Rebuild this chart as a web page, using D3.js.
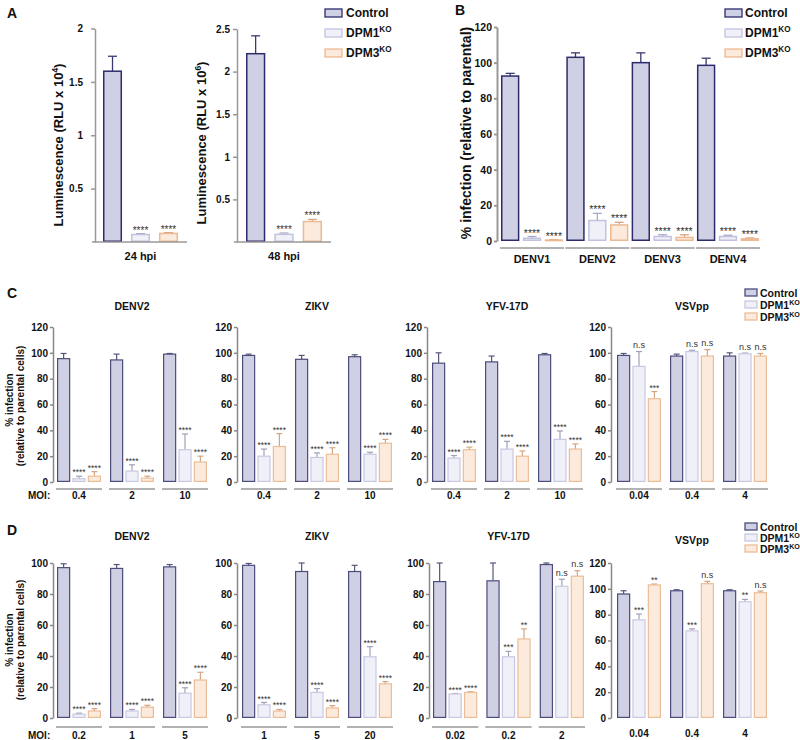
<!DOCTYPE html>
<html><head><meta charset="utf-8">
<script src="https://cdn.jsdelivr.net/npm/d3@7"></script>
<style>body{margin:0;background:#fff} svg{display:block}</style>
</head><body><svg id="c" width="800" height="740"></svg>
<script>
const FONT = '"Liberation Sans", Arial, sans-serif';
const seriesNames = ["Control", "DPM1", "DPM3"];

// ---------- Panel A ----------
const a24Group = ["24 hpi"];
const a24Mean = [1.60, 0.07, 0.08];
const a24Err  = [0.14, 0.008, 0.008];
const a24Sig  = ["", "****", "****"];
const a24Ticks = [0.5, 1, 1.5, 2];
const a48Group = ["48 hpi"];
const a48Mean = [2.21, 0.09, 0.24];
const a48Err  = [0.21, 0.015, 0.025];
const a48Sig  = ["", "****", "****"];
const a48Ticks = [0.5, 1, 1.5, 2, 2.5];

// ---------- Panel B ----------
const bGroups = ["DENV1", "DENV2", "DENV3", "DENV4"];
const bCtl = [92.5, 103, 100, 98.5], bCtlErr = [1.5, 2.5, 5.5, 4];
const bD1  = [1.5, 11.5, 2.5, 2.5],  bD1Err  = [1, 4, 1, 0.7];
const bD3  = [0.5, 9, 2, 1.2],       bD3Err  = [0.3, 1.5, 1.5, 0.5];
const bSig = ["****", "****", "****", "****"];
const bTicks = [0, 20, 40, 60, 80, 100, 120];

// ---------- Panel C ----------
const cTicks = [0, 20, 40, 60, 80, 100, 120];
const cDenvMoi = ["0.4", "2", "10"];
const cDenvCtl = [95.5, 94.5, 99],  cDenvCtlErr = [4, 4.5, 0.5];
const cDenvD1  = [2.5, 8.5, 25],    cDenvD1Err  = [2, 4.8, 12.2];
const cDenvD3  = [4.5, 3, 15.5],    cDenvD3Err  = [3.5, 1.5, 4.5];
const cZikMoi = ["0.4", "2", "10"];
const cZikCtl = [98, 95, 97],       cZikCtlErr = [1, 3, 1.5];
const cZikD1  = [20, 19, 21.5],     cZikD1Err  = [5.5, 3.5, 1.5];
const cZikD3  = [27.5, 21.5, 30],   cZikD3Err  = [10, 5, 3];
const cYfvMoi = ["0.4", "2", "10"];
const cYfvCtl = [92, 93, 98.5],     cYfvCtlErr = [8, 4.5, 1];
const cYfvD1  = [18.5, 25.5, 33],   cYfvD1Err  = [2, 6, 6.5];
const cYfvD3  = [25, 20, 25.5],     cYfvD3Err  = [2, 4, 4];
const cVsvMoi = ["0.04", "0.4", "4"];
const cVsvCtl = [98, 97.5, 97.5],   cVsvCtlErr = [1.5, 1.5, 2.5];
const cVsvD1  = [89.5, 101, 99.3],  cVsvD1Err  = [11.5, 1, 0.5];
const cVsvD3  = [64.5, 97.5, 97.5], cVsvD3Err  = [5.5, 5, 2];
const cVsvD1Sig = ["n.s", "n.s", "n.s"];
const cVsvD3Sig = ["***", "n.s", "n.s"];

// ---------- Panel D ----------
const dTicks100 = [0, 20, 40, 60, 80, 100];
const dTicks120 = [0, 20, 40, 60, 80, 100, 120];
const dDenvMoi = ["0.2", "1", "5"];
const dDenvCtl = [97, 96.5, 97.5],  dDenvCtlErr = [2.5, 2.5, 1.5];
const dDenvD1  = [2.5, 4.5, 16],    dDenvD1Err  = [0.6, 1, 3.5];
const dDenvD3  = [4.5, 7, 24.5],    dDenvD3Err  = [1.5, 1.2, 5];
const dZikMoi = ["1", "5", "20"];
const dZikCtl = [98.5, 94.5, 94.5], dZikCtlErr = [1.2, 5.5, 4];
const dZikD1  = [8.5, 16.5, 39.5],  dZikD1Err  = [1.5, 2.5, 6.5];
const dZikD3  = [4.5, 6.5, 22],     dZikD3Err  = [1, 1.5, 1.5];
const dYfvMoi = ["0.02", "0.2", "2"];
const dYfvCtl = [88, 88.5, 99],     dYfvCtlErr = [12, 11.5, 1];
const dYfvD1  = [15.5, 39.5, 85],   dYfvD1Err  = [0.3, 3.5, 4.5];
const dYfvD3  = [16.5, 51, 91.5],   dYfvD3Err  = [0.4, 6.5, 3.5];
const dYfvD1Sig = ["****", "***", "n.s"];
const dYfvD3Sig = ["****", "**", "n.s"];
const dVsvMoi = ["0.04", "0.4", "4"];
const dVsvCtl = [96, 98.5, 98.5],   dVsvCtlErr = [2.5, 0.8, 0.8];
const dVsvD1  = [76, 67.5, 90],     dVsvD1Err  = [4.5, 1.5, 1.8];
const dVsvD3  = [103, 104, 97],     dVsvD3Err  = [0.7, 1.8, 1.3];
const dVsvD1Sig = ["***", "***", "**"];
const dVsvD3Sig = ["**", "n.s", "n.s"];

const stars3 = ["****", "****", "****"];
const none3 = ["", "", ""];

// ---------- styles ----------
const fillC = {Control: "#d0d0e4", DPM1: "#f0f0f8", DPM3: "#fcebdd"};
const strokeAB = {Control: "#2c2c6c", DPM1: "#c2c2e0", DPM3: "#ebb993"};
const strokeCD = {Control: "#4c4c7c", DPM1: "#c8c8e2", DPM3: "#ebbd98"};
const errAB = {Control: "#3a3a70", DPM1: "#a8a8c8", DPM3: "#d9a57f"};
const errCD = {Control: "#55557a", DPM1: "#a0a0b8", DPM3: "#d4a582"};

const svg = d3.select("#c");

function subplot(o) {
  const x = d3.scaleBand().domain(o.groups).range(o.xRange).paddingInner(o.gPad).paddingOuter(0);
  const xi = d3.scaleBand().domain(seriesNames).range([0, x.bandwidth()]).paddingInner(o.iPad);
  const y = o.y;
  const ax = d3.axisLeft(y).tickValues(o.ticks).tickSize(o.tickSize).tickSizeOuter(0)
    .tickPadding(o.tickPad).tickFormat(d => String(d));
  const ag = svg.append("g").attr("transform", `translate(${o.axisX},0)`).call(ax)
    .attr("font-family", FONT).attr("font-size", o.tickFont);
  ag.select(".domain").attr("stroke", o.axisColor).attr("stroke-width", o.axisW);
  ag.selectAll(".tick line").attr("stroke", o.axisColor).attr("stroke-width", o.axisW);
  ag.selectAll(".tick text").attr("font-weight", o.tickWeight).attr("fill", "#111");

  const data = [];
  o.groups.forEach((grp, gi) => seriesNames.forEach((s, si) => data.push({
    grp, s, v: o.means[si][gi], e: o.errs[si][gi], sig: o.sigs[si][gi]
  })));
  const g = svg.append("g");
  const cx = d => x(d.grp) + xi(d.s) + xi.bandwidth() / 2;
  g.selectAll(".ev").data(data).join("line")
    .attr("x1", cx).attr("x2", cx).attr("y1", d => y(d.v)).attr("y2", d => y(d.v + d.e))
    .attr("stroke", d => o.errCol[d.s]).attr("stroke-width", o.errW);
  g.selectAll(".ec").data(data).join("line")
    .attr("x1", d => cx(d) - o.capW / 2).attr("x2", d => cx(d) + o.capW / 2)
    .attr("y1", d => y(d.v + d.e)).attr("y2", d => y(d.v + d.e))
    .attr("stroke", d => o.errCol[d.s]).attr("stroke-width", o.errW);
  g.selectAll(".bar").data(data).join("rect")
    .attr("x", d => x(d.grp) + xi(d.s) + o.barSW / 2)
    .attr("y", d => y(d.v))
    .attr("width", xi.bandwidth() - o.barSW)
    .attr("height", d => Math.max(0.5, y(0) - y(d.v) - o.barSW / 2))
    .attr("fill", d => fillC[d.s]).attr("stroke", d => o.stroke[d.s]).attr("stroke-width", o.barSW);
  g.selectAll(".sig").data(data.filter(d => d.sig)).join("text")
    .attr("x", cx)
    .attr("y", d => y(d.v + d.e) - (d.sig === "n.s" ? o.nsOff : o.starOff))
    .attr("text-anchor", "middle").attr("font-family", FONT)
    .attr("font-size", d => d.sig === "n.s" ? o.nsFont : o.starFont)
    .attr("fill", "#333").text(d => d.sig);
  if (o.ulY != null) {
    g.selectAll(".ul").data(o.groups).join("line")
      .attr("x1", d => x(d) - 1).attr("x2", d => x(d) + x.bandwidth() + 1)
      .attr("y1", o.ulY).attr("y2", o.ulY).attr("stroke", "#666").attr("stroke-width", 1.2);
  }
  g.selectAll(".gl").data(o.groups).join("text")
    .attr("x", d => x(d) + x.bandwidth() / 2).attr("y", o.labelY)
    .attr("text-anchor", "middle").attr("font-family", FONT).attr("font-weight", "bold")
    .attr("font-size", o.labelFont).attr("fill", "#111").text(d => d);
  if (o.title) {
    svg.append("text").attr("x", (o.xRange[0] + o.xRange[1]) / 2).attr("y", o.titleY)
      .attr("text-anchor", "middle").attr("font-family", FONT).attr("font-weight", "bold")
      .attr("font-size", 10.5).attr("fill", "#111").text(o.title);
  }
  return {x, y};
}

function legend(bx, bw, bh, textX, baselines, font, stroke, boxOff) {
  seriesNames.forEach((s, i) => {
    svg.append("rect").attr("x", bx).attr("y", baselines[i] - boxOff).attr("width", bw).attr("height", bh)
      .attr("fill", fillC[s]).attr("stroke", stroke[s]).attr("stroke-width", 1.3);
    const t = svg.append("text").attr("x", textX).attr("y", baselines[i]).attr("font-family", FONT)
      .attr("font-weight", "bold").attr("font-size", font).attr("fill", "#111");
    if (s === "Control") t.text("Control");
    else {
      t.append("tspan").text(s);
      t.append("tspan").attr("dy", -font * 0.38).attr("font-size", font * 0.68).text("KO");
    }
  });
}

function panelLetter(t, x, y) {
  svg.append("text").attr("x", x).attr("y", y).attr("font-family", FONT).attr("font-weight", "bold")
    .attr("font-size", 14).attr("fill", "#111").text(t);
}

function rotLabel(x, y, font, parts) {
  const t = svg.append("text").attr("transform", `translate(${x},${y}) rotate(-90)`)
    .attr("text-anchor", "middle").attr("font-family", FONT).attr("font-weight", "bold")
    .attr("font-size", font).attr("fill", "#111");
  parts.forEach(p => {
    const ts = t.append("tspan").text(p.t);
    if (p.sup) ts.attr("dy", -font * 0.4).attr("font-size", font * 0.65);
    if (p.down) ts.attr("dy", font * 0.4);
  });
}

// ---------- Draw A ----------
panelLetter("A", 7, 18);
const a1 = subplot({
  groups: a24Group, means: a24Mean.map(v => [v]), errs: a24Err.map(v => [v]), sigs: a24Sig.map(v => [v]),
  y: d3.scaleLinear().domain([0, 2]).range([242, 28.5]), xRange: [103, 178], gPad: 0, iPad: 0.32,
  axisX: 95, ticks: a24Ticks, tickSize: 4, tickPad: 8, tickFont: 10, tickWeight: "bold",
  axisColor: "#999", axisW: 1.5, errCol: errAB, errW: 1.3, capW: 9, stroke: strokeAB, barSW: 1.5,
  starFont: 10, starOff: 0, nsFont: 9, nsOff: 3, ulY: null, labelY: 260, labelFont: 11
});
svg.append("line").attr("x1", 92).attr("x2", 187).attr("y1", a1.y(0)).attr("y2", a1.y(0))
  .attr("stroke", "#999").attr("stroke-width", 1.5);
rotLabel(63, 145, 13, [{t: "Luminescence (RLU x 10"}, {t: "4", sup: true}, {t: ")", down: true}]);

const a2 = subplot({
  groups: a48Group, means: a48Mean.map(v => [v]), errs: a48Err.map(v => [v]), sigs: a48Sig.map(v => [v]),
  y: d3.scaleLinear().domain([0, 2.5]).range([242, 29]), xRange: [246, 322], gPad: 0, iPad: 0.32,
  axisX: 237, ticks: a48Ticks, tickSize: 4, tickPad: 3, tickFont: 10, tickWeight: "bold",
  axisColor: "#999", axisW: 1.5, errCol: errAB, errW: 1.3, capW: 9, stroke: strokeAB, barSW: 1.5,
  starFont: 10, starOff: 0, nsFont: 9, nsOff: 3, ulY: null, labelY: 260, labelFont: 11
});
svg.append("line").attr("x1", 234).attr("x2", 331).attr("y1", a2.y(0)).attr("y2", a2.y(0))
  .attr("stroke", "#999").attr("stroke-width", 1.5);
rotLabel(206, 143, 13, [{t: "Luminescence (RLU x 10"}, {t: "6", sup: true}, {t: ")", down: true}]);
legend(325, 17, 8, 346, [17, 37, 57], 12, strokeAB, 8);

// ---------- Draw B ----------
panelLetter("B", 455, 15);
subplot({
  groups: bGroups, means: [bCtl, bD1, bD3], errs: [bCtlErr, bD1Err, bD3Err], sigs: [["", "", "", ""], bSig, bSig],
  y: d3.scaleLinear().domain([0, 120]).range([241, 27]), xRange: [501, 759], gPad: 0.05, iPad: 0.16,
  axisX: 497, ticks: bTicks, tickSize: 3, tickPad: 2, tickFont: 10.5, tickWeight: "bold",
  axisColor: "#999", axisW: 2, errCol: errAB, errW: 1.3, capW: 9, stroke: strokeAB, barSW: 1.5,
  starFont: 10.5, starOff: 0, nsFont: 9, nsOff: 3, ulY: 248, labelY: 263, labelFont: 11
});
rotLabel(471, 133, 14, [{t: "% infection (relative to parental)"}]);
legend(725, 17, 8, 745, [17, 37, 57], 12, strokeAB, 8);

// ---------- Draw C & D ----------
function cdPlot(o) {
  return subplot(Object.assign({
    gPad: 0.17, iPad: 0.14, tickSize: 3, tickPad: 2, tickFont: 10, tickWeight: "bold",
    axisColor: "#888", axisW: 1.5, errCol: errCD, errW: 1.2, capW: 6, stroke: strokeCD, barSW: 1.2,
    starFont: 8.5, starOff: 1, nsFont: 9, nsOff: 3.5, labelFont: 10
  }, o));
}
panelLetter("C", 7, 298);
const cY = () => d3.scaleLinear().domain([0, 120]).range([482, 327]);
const cCommon = {ticks: cTicks, ulY: 489, labelY: 499, titleY: 310};
cdPlot(Object.assign({title: "DENV2", groups: cDenvMoi, means: [cDenvCtl, cDenvD1, cDenvD3],
  errs: [cDenvCtlErr, cDenvD1Err, cDenvD3Err], sigs: [none3, stars3, stars3], y: cY(), axisX: 53, xRange: [57, 207]}, cCommon));
cdPlot(Object.assign({title: "ZIKV", groups: cZikMoi, means: [cZikCtl, cZikD1, cZikD3],
  errs: [cZikCtlErr, cZikD1Err, cZikD3Err], sigs: [none3, stars3, stars3], y: cY(), axisX: 237, xRange: [242, 392]}, cCommon));
cdPlot(Object.assign({title: "YFV-17D", groups: cYfvMoi, means: [cYfvCtl, cYfvD1, cYfvD3],
  errs: [cYfvCtlErr, cYfvD1Err, cYfvD3Err], sigs: [none3, stars3, stars3], y: cY(), axisX: 427, xRange: [432, 582]}, cCommon));
cdPlot(Object.assign({title: "VSVpp", groups: cVsvMoi, means: [cVsvCtl, cVsvD1, cVsvD3],
  errs: [cVsvCtlErr, cVsvD1Err, cVsvD3Err], sigs: [none3, cVsvD1Sig, cVsvD3Sig], y: cY(), axisX: 611, xRange: [617, 767]}, cCommon));
svg.append("text").attr("x", 28).attr("y", 499).attr("font-family", FONT).attr("font-weight", "bold")
  .attr("font-size", 10).attr("fill", "#111").text("MOI:");
rotLabel(12.5, 400, 10, [{t: "% infection"}]);
rotLabel(24, 406, 10, [{t: "(relative to parental cells)"}]);
legend(745, 12, 7, 760, [297, 309, 321], 10.5, strokeCD, 8);

panelLetter("D", 7, 535);
const dCommon = {ulY: 727, labelY: 739, titleY: 540};
cdPlot(Object.assign({title: "DENV2", groups: dDenvMoi, means: [dDenvCtl, dDenvD1, dDenvD3],
  errs: [dDenvCtlErr, dDenvD1Err, dDenvD3Err], sigs: [none3, stars3, stars3], ticks: dTicks100,
  y: d3.scaleLinear().domain([0, 100]).range([718, 563]), axisX: 53, xRange: [57, 207]}, dCommon));
cdPlot(Object.assign({title: "ZIKV", groups: dZikMoi, means: [dZikCtl, dZikD1, dZikD3],
  errs: [dZikCtlErr, dZikD1Err, dZikD3Err], sigs: [none3, stars3, stars3], ticks: dTicks100,
  y: d3.scaleLinear().domain([0, 100]).range([718, 563]), axisX: 237, xRange: [242, 392]}, dCommon));
cdPlot(Object.assign({title: "YFV-17D", groups: dYfvMoi, means: [dYfvCtl, dYfvD1, dYfvD3],
  errs: [dYfvCtlErr, dYfvD1Err, dYfvD3Err], sigs: [none3, dYfvD1Sig, dYfvD3Sig], ticks: dTicks100,
  y: d3.scaleLinear().domain([0, 100]).range([718, 563]), axisX: 429, xRange: [433, 584]}, dCommon));
cdPlot({title: "VSVpp", titleY: 544, groups: dVsvMoi, means: [dVsvCtl, dVsvD1, dVsvD3],
  errs: [dVsvCtlErr, dVsvD1Err, dVsvD3Err], sigs: [none3, dVsvD1Sig, dVsvD3Sig], ticks: dTicks120,
  y: d3.scaleLinear().domain([0, 120]).range([718, 563]), axisX: 611, xRange: [617, 767], ulY: null, labelY: 737});
svg.append("text").attr("x", 28).attr("y", 739).attr("font-family", FONT).attr("font-weight", "bold")
  .attr("font-size", 10).attr("fill", "#111").text("MOI:");
rotLabel(12.5, 640, 10, [{t: "% infection"}]);
rotLabel(24, 640, 10, [{t: "(relative to parental cells)"}]);
legend(745, 12, 7, 760, [531, 542, 553], 10.5, strokeCD, 8);
</script></body></html>
